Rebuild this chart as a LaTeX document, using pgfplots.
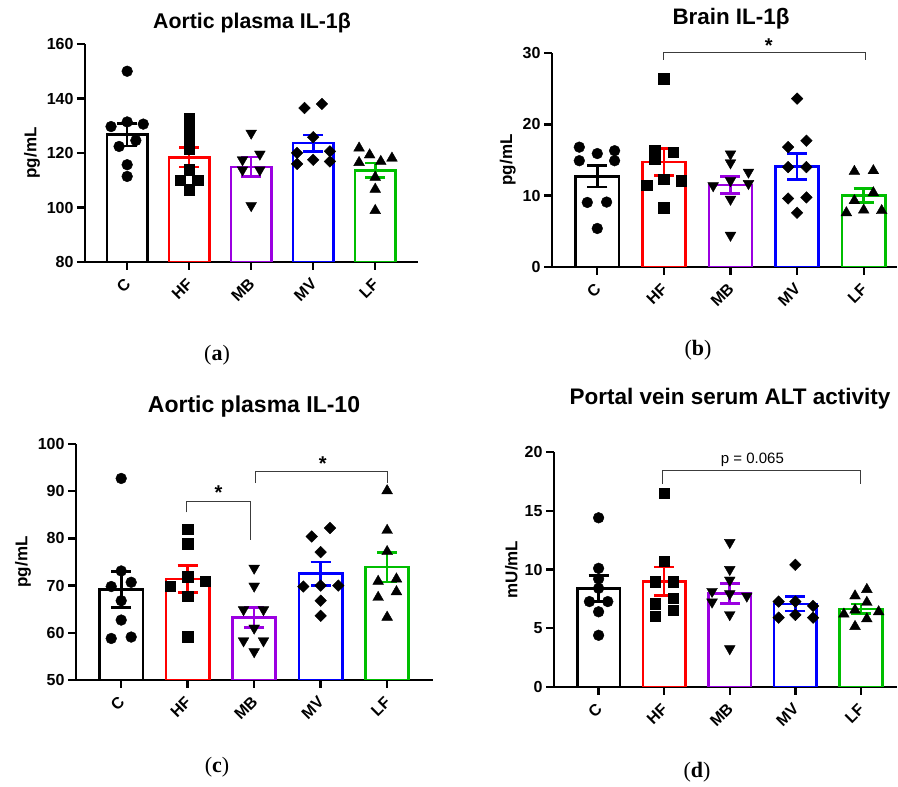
\documentclass[border=0pt]{standalone}
\usepackage{fontspec}
\setmainfont{Liberation Sans}
\newfontfamily\capfont{Liberation Serif}
\usepackage{pgfplots}
\pgfplotsset{compat=1.18}

\definecolor{cC}{RGB}{0,0,0}
\definecolor{cHF}{RGB}{255,0,0}
\definecolor{cMB}{RGB}{155,0,225}
\definecolor{cMV}{RGB}{0,0,255}
\definecolor{cLF}{RGB}{0,190,0}
\definecolor{brk}{RGB}{60,60,60}

\newcommand{\tickfont}{\bfseries\fontsize{16}{16}\selectfont}
\newcommand{\ttl}[1]{\bfseries\fontsize{#1}{#1}\selectfont}

\pgfplotsset{
  panel/.style={
    scale only axis, anchor=south west,
    axis x line*=bottom, axis y line*=left,
    axis line style={line width=2.4pt, black},
    major tick style={line width=2.4pt, black},
    tick align=outside, major tick length=8pt,
    xmin=-0.68, xmax=4.69,
    xtick={0,1,2,3,4}, xticklabels={C,HF,MB,MV,LF},
    x tick label style={yshift=-9pt, xshift=3pt, rotate=45, anchor=east, font=\tickfont},
    y tick label style={font=\tickfont},
    /pgf/number format/assume math mode=true,
    ylabel style={font=\bfseries\fontsize{17}{17}\selectfont},
    ylabel={pg/mL},
    clip mode=individual,
  },
  gbar/.style={ybar, bar width=0.65, bar shift=0pt, fill=white, draw=#1,
    line width=2.6pt,
    error bars/y dir=both, error bars/y explicit,
    error bars/error bar style={line width=2.6pt, draw=#1},
    error bars/error mark options={rotate=90, mark size=10pt, line width=2.6pt, draw=#1}},
  ptC/.style={only marks, black, mark=*, mark size=5.4pt},
  ptHF/.style={only marks, black, mark=square*, mark size=5.2pt},
  ptMB/.style={only marks, black, mark=triangle*, mark size=6.2pt, mark options={rotate=180}},
  ptMV/.style={only marks, black, mark=square*, mark size=4.1pt, mark options={rotate=45}},
  ptLF/.style={only marks, black, mark=triangle*, mark size=6.2pt},
}

\begin{document}
\begin{tikzpicture}
\useasboundingbox (0pt,0pt) rectangle (898pt,787pt);

% ---------- (a) Aortic plasma IL-1beta
\begin{axis}[panel, at={(85pt,525pt)}, width=333pt, height=218pt,
  ymin=80, ymax=160, ytick={80,100,120,140,160}]
\addplot[gbar=cC]  coordinates {(0,126.7) +- (0,4.2)};
\addplot[gbar=cHF] coordinates {(1,118.4) +- (0,3.6)};
\addplot[gbar=cMB] coordinates {(2,114.9) +- (0,3.6)};
\addplot[gbar=cMV] coordinates {(3,123.6) +- (0,3.0)};
\addplot[gbar=cLF] coordinates {(4,113.6) +- (0,2.7)};
\addplot[ptC] coordinates {(0,150) (-0.26,129.7) (0,131.4) (0.26,130.6) (-0.13,122.4) (0.14,124.6) (0,115.7) (0,111.4)};
\addplot[ptHF] coordinates {(1,132.8) (1,129.7) (1,125.5) (1,121.4) (1,113.8) (0.86,110.1) (1.14,110.1) (1,106.5)};
\addplot[ptMB] coordinates {(2,127.3) (2.14,119.6) (1.86,117.5) (1.86,113.8) (2.14,113.8) (2,100.7)};
\addplot[ptMV] coordinates {(2.86,136.5) (3.14,138) (3,125.8) (2.74,120) (3.27,120.6) (3,117.5) (2.74,116) (3.27,116.9)};
\addplot[ptLF] coordinates {(3.74,121.8) (3.91,119.3) (3.74,116.5) (4.09,116.9) (4.27,118.1) (4,111.1) (4,106.7) (4,98.9)};
\end{axis}

% ---------- (b) Brain IL-1beta
\begin{axis}[panel, at={(552pt,520pt)}, width=345pt, height=214pt,
  xmax=4.5, ymin=0, ymax=30, ytick={0,10,20,30}]
\addplot[gbar=cC]  coordinates {(0,12.7) +- (0,1.5)};
\addplot[gbar=cHF] coordinates {(1,14.7) +- (0,1.9)};
\addplot[gbar=cMB] coordinates {(2,11.5) +- (0,1.2)};
\addplot[gbar=cMV] coordinates {(3,14.1) +- (0,1.8)};
\addplot[gbar=cLF] coordinates {(4,10.0) +- (0,1.0)};
\addplot[ptC] coordinates {(-0.27,16.8) (0,15.9) (0.26,16.3) (-0.27,14.9) (0.26,14.9) (-0.15,9.05) (0.14,9.1) (0,5.4)};
\addplot[ptHF] coordinates {(1,26.4) (0.86,16.3) (1.14,16.1) (0.86,15.1) (0.74,11.5) (1,12.3) (1.26,12.1) (1,8.3)};
\addplot[ptMB] coordinates {(2,15.85) (2,14.6) (2.27,13.3) (1.74,11.4) (2,12.1) (2.27,11.7) (2,9.5) (2,4.45)};
\addplot[ptMV] coordinates {(3,23.6) (2.865,16.8) (3.14,17.7) (2.865,14) (3.14,14) (2.865,9.6) (3.14,9.75) (3,7.6)};
\addplot[ptLF] coordinates {(3.86,13.4) (4.145,13.5) (4.145,10.4) (3.86,9.3) (4,7.97) (3.74,7.6) (4.27,7.9)};
\draw[brk, line width=1pt] (axis cs:1,29.05) -- (axis cs:1,30.1) -- (axis cs:4.03,30.1) -- (axis cs:4.03,29.05);
\node[font=\bfseries\fontsize{20}{20}\selectfont] at (axis cs:2.575,31.0) {*};
\end{axis}

% ---------- (c) Aortic plasma IL-10
\begin{axis}[panel, at={(76pt,107pt)}, width=357pt, height=236pt,
  ymin=50, ymax=100, ytick={50,60,70,80,90,100}]
\addplot[gbar=cC]  coordinates {(0,69.2) +- (0,3.8)};
\addplot[gbar=cHF] coordinates {(1,71.4) +- (0,2.8)};
\addplot[gbar=cMB] coordinates {(2,63.2) +- (0,2.1)};
\addplot[gbar=cMV] coordinates {(3,72.5) +- (0,2.5)};
\addplot[gbar=cLF] coordinates {(4,73.9) +- (0,3.1)};
\addplot[ptC] coordinates {(0,92.7) (0,73.1) (-0.15,69.8) (0.15,70.7) (0,66.8) (0,62.7) (-0.15,58.8) (0.15,59.1)};
\addplot[ptHF] coordinates {(1,82) (1,78.9) (1,71.9) (0.74,69.9) (1.26,70.9) (1,67.8) (1,59.2)};
\addplot[ptMB] coordinates {(2,73.7) (2,69.9) (1.84,64.9) (2.14,64.9) (2,61) (1.84,58.3) (2.14,58.3) (2,56)};
\addplot[ptMV] coordinates {(2.865,80.4) (3.14,82.2) (3,77.1) (2.74,69.8) (3,70) (3.265,70) (3,66.8) (3,63.6)};
\addplot[ptLF] coordinates {(4,90.1) (4,81.7) (4,77.2) (3.865,70.9) (4.14,71.4) (3.865,67.5) (4.14,68.7) (4,63.3)};
\draw[brk, line width=1pt] (axis cs:0.975,85.5) -- (axis cs:0.975,87.8) -- (axis cs:1.94,87.8) -- (axis cs:1.94,79.7);
\draw[brk, line width=1pt] (axis cs:2.025,91.7) -- (axis cs:2.025,94.1) -- (axis cs:4.0,94.1) -- (axis cs:4.0,91.7);
\node[font=\bfseries\fontsize{20}{20}\selectfont] at (axis cs:1.465,89.6) {*};
\node[font=\bfseries\fontsize{20}{20}\selectfont] at (axis cs:3.03,95.8) {*};
\end{axis}

% ---------- (d) Portal vein serum ALT activity
\begin{axis}[panel, at={(554pt,100pt)}, width=343pt, height=235pt,
  xmax=4.55, ymin=0, ymax=20, ytick={0,5,10,15,20}, ylabel={mU/mL}]
\addplot[gbar=cC]  coordinates {(0,8.4) +- (0,1.1)};
\addplot[gbar=cHF] coordinates {(1,9.0) +- (0,1.2)};
\addplot[gbar=cMB] coordinates {(2,7.95) +- (0,0.85)};
\addplot[gbar=cMV] coordinates {(3,7.08) +- (0,0.6)};
\addplot[gbar=cLF] coordinates {(4,6.65) +- (0,0.4)};
\addplot[ptC] coordinates {(0,14.4) (0,10.1) (0,9.2) (0,8.4) (-0.14,7.27) (0.14,7.27) (0,6.4) (0,4.4)};
\addplot[ptHF] coordinates {(1,16.5) (1,10.7) (0.86,8.97) (1.14,8.97) (0.86,7.1) (1.14,7.55) (1.14,6.55) (0.86,6.0)};
\addplot[ptMB] coordinates {(2,12.3) (2,10.0) (2,9.1) (2,7.94) (1.73,8.14) (1.73,7.23) (2.26,7.74) (2,6.16) (2,3.26)};
\addplot[ptMV] coordinates {(3,10.4) (2.745,7.27) (3,7.27) (3.27,6.9) (2.745,5.9) (3,6.14) (3.27,5.9)};
\addplot[ptLF] coordinates {(4.09,8.3) (3.91,7.75) (4.09,7.2) (3.74,6.2) (3.91,6.55) (4.27,6.4) (4.09,5.8) (3.91,5.15)};
\draw[brk, line width=1pt] (axis cs:0.975,17.3) -- (axis cs:0.975,18.44) -- (axis cs:3.99,18.44) -- (axis cs:3.99,17.3);
\node[font=\fontsize{15}{15}\selectfont] at (axis cs:2.345,19.3) {p = 0.065};
\end{axis}

% titles
\node[font=\ttl{21.3}] at (252pt,763.5pt) {Aortic plasma IL-1β};
\node[font=\ttl{22.4}] at (731pt,768pt) {Brain IL-1β};
\node[font=\ttl{23}] at (254pt,380.5pt) {Aortic plasma IL-10};
\node[font=\ttl{22.5}] at (730pt,388pt) {Portal vein serum ALT activity};

% sub-captions
\node[font=\capfont\fontsize{22}{22}\selectfont] at (217pt,432pt) {(\textbf{a})};
\node[font=\capfont\fontsize{22}{22}\selectfont] at (698pt,437pt) {(\textbf{b})};
\node[font=\capfont\fontsize{22}{22}\selectfont] at (217pt,20pt) {(\textbf{c})};
\node[font=\capfont\fontsize{22}{22}\selectfont] at (697pt,15pt) {(\textbf{d})};
\end{tikzpicture}
\end{document}
